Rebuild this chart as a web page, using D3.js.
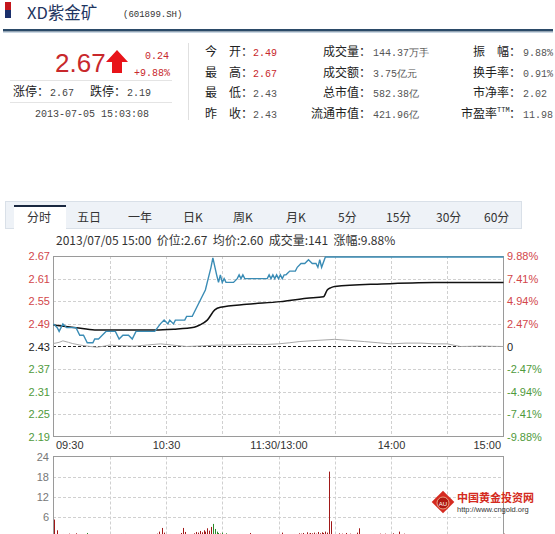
<!DOCTYPE html>
<html><head><meta charset="utf-8">
<script src="https://cdn.jsdelivr.net/npm/d3@7/dist/d3.min.js"></script>
<style>
html,body{margin:0;padding:0;background:#fff;}
svg{display:block;}
</style></head>
<body>
<svg id="c" width="555" height="534"></svg>
<script>
// ---------------- data ----------------
const stockName = "XD紫金矿";
const stockCode = "(601899.SH)";
const lastPrice = "2.67";
const change = "0.24";
const changePct = "+9.88%";
const limitLabels = ["涨停：", "跌停："];
const limitValues = ["2.67", "2.19"];
const quoteTime = "2013-07-05 15:03:08";
const col2Labels = [["今","开："],["最","高："],["最","低："],["昨","收："]];
const col2Values = ["2.49","2.67","2.43","2.43"];
const col3Labels = ["成交量：","成交额：","总市值：","流通市值："];
const col3Values = ["144.37万手","3.75亿元","582.38亿","421.96亿"];
const col4Labels = ["振  幅：","换手率：","市净率：","市盈率"];
const col4Values = ["9.88%","0.91%","2.02","11.98"];
const tabs = ["分时","五日","一年","日K","周K","月K","5分","15分","30分","60分"];
const infoLine = "2013/07/05 15:00  价位:2.67  均价:2.60  成交量:141  涨幅:9.88%";

const timeLabels = ["09:30","10:30","11:30/13:00","14:00","15:00"];
const timeLabelMinutes = [0,60,120,180,240];
const gridMinutes = [30,60,90,120,150,180,210];
const priceTicks = [2.19,2.25,2.31,2.37,2.43,2.49,2.55,2.61,2.67];
const pctTicks = ["-9.88%","-7.41%","-4.94%","-2.47%","0","2.47%","4.94%","7.41%","9.88%"];
const prevClose = 2.43;
const volTicks = [6,12,18,24];

// [minute, price]
const priceLine = [[0,2.49],[2,2.48],[3,2.47],[5,2.49],[7,2.48],[12,2.48],[14,2.46],[16,2.46],[18,2.44],[21,2.44],[22,2.45],[24,2.45],[26,2.46],[28,2.47],[33,2.47],[35,2.45],[37,2.46],[40,2.46],[42,2.45],[44,2.47],[54,2.47],[57,2.49],[59,2.50],[61,2.49],[62,2.50],[64,2.49],[65,2.50],[70,2.50],[71,2.51],[74,2.51],[75,2.52],[77,2.54],[79,2.56],[81,2.58],[82,2.60],[84,2.64],[85,2.665],[87,2.62],[88,2.60],[89,2.62],[90,2.60],[91,2.61],[92,2.60],[96,2.60],[98,2.61],[99,2.62],[100,2.61],[101,2.62],[102,2.61],[114,2.61],[115,2.62],[116,2.61],[117,2.62],[118,2.61],[119,2.62],[120,2.61],[121,2.62],[122,2.61],[123,2.62],[124,2.62],[126,2.63],[129,2.63],[130,2.64],[132,2.65],[134,2.65],[136,2.66],[138,2.65],[140,2.65],[141,2.64],[142,2.66],[143,2.64],[145,2.67],[240,2.67]];
// [minute, average price]
const avgLine = [[0,2.487],[12,2.48],[22,2.474],[54,2.474],[64,2.476],[75,2.481],[78,2.487],[82,2.50],[86,2.527],[89,2.534],[103,2.542],[121,2.549],[135,2.558],[144,2.562],[146,2.58],[148,2.586],[150,2.589],[175,2.596],[203,2.60],[240,2.60]];
// [minute, index reference (in price units)]
const refLine = [[0,2.438],[3,2.441],[5,2.445],[8,2.441],[10,2.438],[14,2.434],[18,2.431],[23,2.428],[27,2.431],[30,2.434],[36,2.432],[43,2.431],[50,2.434],[57,2.437],[63,2.434],[71,2.430],[80,2.432],[88,2.434],[96,2.434],[104,2.436],[112,2.435],[120,2.437],[126,2.440],[131,2.443],[140,2.446],[150,2.449],[158,2.446],[166,2.443],[173,2.440],[180,2.437],[188,2.439],[196,2.439],[203,2.437],[210,2.437],[217,2.430],[228,2.431],[240,2.430]];

const volumes = [
5.2,0.6,2.0,0.8,0.5,0.9,0.4,0.7,1.0,0.5,
0.3,0.6,1.1,0.4,0.5,0.8,0.3,0.4,1.2,0.5,
0.6,0.3,0.4,0.2,0.5,0.3,0.4,0.6,0.3,0.2,
0.4,0.3,0.2,0.5,0.3,0.4,0.2,0.3,0.9,0.4,
0.3,0.2,0.4,0.3,0.2,0.3,0.2,0.3,0.2,0.3,
0.4,0.3,0.5,0.4,0.6,1.0,1.6,0.8,2.7,1.3,
0.7,0.5,0.9,0.6,0.5,0.8,0.6,0.9,1.2,2.7,
1.5,0.8,0.6,0.7,0.9,1.1,1.5,1.3,1.8,1.4,
2.0,1.6,2.6,1.9,3.0,3.9,2.4,1.6,1.2,1.0,
1.3,0.9,1.1,0.7,0.8,0.6,0.5,0.7,0.6,0.9,
0.5,0.4,0.6,0.4,0.5,1.2,0.4,0.3,0.5,0.3,
0.4,0.3,0.5,0.3,0.4,0.6,0.3,0.5,0.4,0.6,
0.5,0.4,1.3,0.5,0.4,0.6,0.5,0.7,0.9,0.6,
0.8,1.1,1.0,1.2,0.9,1.4,1.0,1.2,1.1,1.3,
1.0,1.5,1.1,1.4,1.2,1.6,1.3,19.5,4.7,0.8,
0.6,0.5,1.1,0.6,1.0,0.5,1.2,0.6,1.0,0.4,
0.5,0.7,1.3,2.6,0.8,0.5,0.4,0.6,0.3,0.5,
0.4,0.9,0.5,0.3,1.0,0.4,0.3,1.0,0.4,0.3,
0.5,1.1,0.4,0.6,1.6,0.5,0.3,1.0,0.4,0.3,
0.6,0.3,0.2,0.4,0.3,0.2,0.3,0.4,0.2,0.3,
0.2,0.3,0.4,0.2,0.3,0.2,0.4,0.3,0.2,0.3,
0.2,0.3,0.2,0.4,0.3,0.2,0.3,0.2,0.3,0.2,
0.3,0.2,0.3,0.4,0.2,0.3,0.2,0.3,0.2,0.3,
0.2,0.3,0.2,0.3,0.4,0.2,0.3,0.2,0.3,0.2,
1.0];
const downMinutes = [3,14,18,35,42,61,64,85,86,87,88,90,92];

// ---------------- drawing ----------------
const svg = d3.select("#c");
const CJK = "'Noto Sans CJK SC','Noto Sans',sans-serif";
const MONO = "'Liberation Mono','DejaVu Sans Mono',monospace";
const SANS = "'Liberation Sans',Arial,sans-serif";
const RED = "#c8282c";

// header marker
svg.append("rect").attr("x",5).attr("y",2).attr("width",6).attr("height",8).attr("fill","#c4161c");
svg.append("rect").attr("x",5).attr("y",10).attr("width",6).attr("height",8).attr("fill","#1b2f6b");
svg.append("text").attr("x",27).attr("y",19).attr("font-family",CJK).attr("font-size",16.5)
  .attr("fill","#1e3560").text(stockName);
svg.append("text").attr("x",123).attr("y",17).attr("font-family",MONO).attr("font-size",9)
  .attr("fill","#333").text(stockCode);
svg.append("rect").attr("x",3).attr("y",29).attr("width",550).attr("height",2.5).attr("fill","#2b4a68");
svg.append("rect").attr("x",3).attr("y",32).attr("width",550).attr("height",1).attr("fill","#c9d6e2");

// left block
svg.append("text").attr("x",55).attr("y",72).attr("font-family",SANS).attr("font-size",26)
  .attr("fill",RED).text(lastPrice);
svg.append("path").attr("d","M117,50 L128,62 L122,62 L122,73 L112,73 L112,62 L106,62 Z").attr("fill","#e8141a");
svg.append("text").attr("x",169).attr("y",59).attr("text-anchor","end").attr("font-family",MONO)
  .attr("font-size",10).attr("fill",RED).text(change);
svg.append("text").attr("x",170).attr("y",76).attr("text-anchor","end").attr("font-family",MONO)
  .attr("font-size",10).attr("fill",RED).text(changePct);
svg.append("line").attr("x1",10).attr("x2",172).attr("y1",80.5).attr("y2",80.5).attr("stroke","#e4e4e4");
svg.append("line").attr("x1",10).attr("x2",172).attr("y1",102.5).attr("y2",102.5).attr("stroke","#e4e4e4");
[[13,0],[90,1]].forEach(([x,i])=>{
  svg.append("text").attr("x",x).attr("y",96).attr("font-family",CJK).attr("font-size",12)
    .attr("fill","#222").text(limitLabels[i]);
  svg.append("text").attr("x",x+37).attr("y",96).attr("font-family",MONO).attr("font-size",10)
    .attr("fill","#444").text(limitValues[i]);
});
svg.append("text").attr("x",35).attr("y",117).attr("font-family",MONO).attr("font-size",10)
  .attr("fill","#444").text(quoteTime);
svg.append("line").attr("x1",188.5).attr("x2",188.5).attr("y1",43).attr("y2",120).attr("stroke","#e0e0e0");

const rowY = [56,77,97,118];
col2Labels.forEach((l,i)=>{
  svg.append("text").attr("x",205).attr("y",rowY[i]).attr("font-family",CJK).attr("font-size",12).attr("fill","#222").text(l[0]);
  svg.append("text").attr("x",229).attr("y",rowY[i]).attr("font-family",CJK).attr("font-size",12).attr("fill","#222").text(l[1]);
  svg.append("text").attr("x",253).attr("y",rowY[i]).attr("font-family",MONO).attr("font-size",10)
    .attr("fill", i<2 ? RED : "#555").text(col2Values[i]);
});
col3Labels.forEach((l,i)=>{
  svg.append("text").attr("x",371).attr("y",rowY[i]).attr("text-anchor","end").attr("font-family",CJK).attr("font-size",12).attr("fill","#222").text(l);
  svg.append("text").attr("x",373).attr("y",rowY[i]).attr("font-family",MONO).attr("font-size",10).attr("fill","#555").text(col3Values[i]);
});
col4Labels.forEach((l,i)=>{
  if(i===3){
    svg.append("text").attr("x",497).attr("y",rowY[i]).attr("text-anchor","end").attr("font-family",CJK).attr("font-size",12).attr("fill","#222").text(l);
    svg.append("text").attr("x",497).attr("y",rowY[i]-6).attr("font-family",MONO).attr("font-size",7).attr("fill","#222").text("TTM");
    svg.append("text").attr("x",509).attr("y",rowY[i]).attr("font-family",CJK).attr("font-size",12).attr("fill","#222").text("：");
  } else if(i===0){
    svg.append("text").attr("x",473).attr("y",rowY[i]).attr("font-family",CJK).attr("font-size",12).attr("fill","#222").text("振");
    svg.append("text").attr("x",497).attr("y",rowY[i]).attr("font-family",CJK).attr("font-size",12).attr("fill","#222").text("幅：");
  } else {
    svg.append("text").attr("x",521).attr("y",rowY[i]).attr("text-anchor","end").attr("font-family",CJK).attr("font-size",12).attr("fill","#222").text(l);
  }
  svg.append("text").attr("x",523).attr("y",rowY[i]).attr("font-family",MONO).attr("font-size",10).attr("fill","#555").text(col4Values[i]);
});

// tabs
svg.append("rect").attr("x",5.5).attr("y",201.5).attr("width",516).attr("height",27).attr("fill","#eef2f7").attr("stroke","#d9e0e8");
svg.append("rect").attr("x",14).attr("y",205).attr("width",52).attr("height",24).attr("fill","#fff");
svg.append("line").attr("x1",14).attr("x2",66).attr("y1",206).attr("y2",206).attr("stroke","#1a2840").attr("stroke-width",2);
const tabX = [27,77,128,183,233,286,338,386,436,484];
tabs.forEach((t,i)=>{
  svg.append("text").attr("x",tabX[i]).attr("y",222).attr("font-family",CJK).attr("font-size",12)
    .attr("fill","#333").text(t);
});
svg.append("text").attr("x",56).attr("y",245).attr("font-family",CJK).attr("font-size",12)
  .attr("fill","#333").attr("xml:space","preserve").style("white-space","pre").text(infoLine);

// scales
const L = 53, R = 504, T = 256, B = 437;
const x = d3.scaleLinear().domain([0,240]).range([L+0.5,R-0.5]);
const y = d3.scaleLinear().domain([2.19,2.67]).range([B,T]);
const VT = 456.5, VB = 537;
const yv = d3.scaleLinear().domain([0,24]).range([VB,VT]);

// main grid
const g = svg.append("g");
g.selectAll(".hg").data(priceTicks.filter(p=>p!==2.19 && p!==2.67 && p!==prevClose)).join("line")
  .attr("x1",L).attr("x2",R).attr("y1",d=>Math.round(y(d))+0.5).attr("y2",d=>Math.round(y(d))+0.5)
  .attr("stroke","#d0d0d0").attr("stroke-dasharray","3,2");
g.selectAll(".vg").data(gridMinutes).join("line")
  .attr("x1",d=>Math.round(x(d))+0.5).attr("x2",d=>Math.round(x(d))+0.5).attr("y1",T).attr("y2",B)
  .attr("stroke","#d0d0d0").attr("stroke-dasharray","3,2");
g.append("line").attr("x1",L).attr("x2",R).attr("y1",Math.round(y(prevClose))+0.5).attr("y2",Math.round(y(prevClose))+0.5)
  .attr("stroke","#222").attr("stroke-dasharray","3,2");
svg.append("rect").attr("x",L+0.5).attr("y",T+0.5).attr("width",R-L-1).attr("height",B-T-1)
  .attr("fill","none").attr("stroke","#9a9a9a");

// left axis
const yAxis = d3.axisLeft(y).tickValues(priceTicks).tickSize(0).tickPadding(3).tickFormat(d3.format(".2f"));
const ya = svg.append("g").attr("transform",`translate(${L},0)`).call(yAxis);
ya.select(".domain").remove();
ya.selectAll("text").attr("font-family",SANS).attr("font-size",11)
  .attr("fill",d=> d>prevClose ? "#d2464a" : (d<prevClose ? "#4f9a3c" : "#222"));
// right axis
const yAxisR = d3.axisRight(y).tickValues(priceTicks).tickSize(0).tickPadding(3).tickFormat((d,i)=>pctTicks[i]);
const yr = svg.append("g").attr("transform",`translate(${R},0)`).call(yAxisR);
yr.select(".domain").remove();
yr.selectAll("text").attr("font-family",SANS).attr("font-size",11)
  .attr("fill",d=> d>prevClose ? "#d2464a" : (d<prevClose ? "#4f9a3c" : "#222"));
// bottom axis
const xAxis = d3.axisBottom(x).tickValues(timeLabelMinutes).tickSize(0).tickPadding(4).tickFormat((d,i)=>timeLabels[i]);
const xa = svg.append("g").attr("transform",`translate(0,${B})`).call(xAxis);
xa.select(".domain").remove();
xa.selectAll("text").attr("font-family",SANS).attr("font-size",11).attr("fill","#333")
  .attr("text-anchor",(d,i)=> i===0 ? "start" : (i===timeLabels.length-1 ? "end" : "middle"))
  .attr("dx",(d,i)=> i===0 ? 2 : (i===timeLabels.length-1 ? -3 : 0));

// lines (drawn above the frame)
const line = d3.line().x(d=>x(d[0])).y(d=>y(d[1]));
svg.append("path").datum(refLine).attr("d",line).attr("fill","none").attr("stroke","#a8a8a8").attr("stroke-width",1);
svg.append("path").datum(avgLine).attr("d",d3.line().x(d=>x(d[0])).y(d=>y(d[1])).curve(d3.curveMonotoneX))
  .attr("fill","none").attr("stroke","#111").attr("stroke-width",1.5);
svg.append("path").datum(priceLine).attr("d",d3.line().x(d=>x(d[0])).y(d=>y(d[1]) + (d[1]>=2.67 ? 1 : 0))).attr("fill","none")
  .attr("stroke","#3a8cb5").attr("stroke-width",1.4);

// volume chart
const vg = svg.append("g");
vg.selectAll(".vh").data(volTicks.filter(v=>v!==24)).join("line")
  .attr("x1",L).attr("x2",R).attr("y1",d=>Math.round(yv(d))+0.5).attr("y2",d=>Math.round(yv(d))+0.5)
  .attr("stroke","#d0d0d0").attr("stroke-dasharray","3,2");
vg.selectAll(".vv").data(gridMinutes).join("line")
  .attr("x1",d=>Math.round(x(d))+0.5).attr("x2",d=>Math.round(x(d))+0.5).attr("y1",VT).attr("y2",VB)
  .attr("stroke","#d0d0d0").attr("stroke-dasharray","3,2");
const va = svg.append("g").attr("transform",`translate(${L},0)`)
  .call(d3.axisLeft(yv).tickValues(volTicks).tickSize(0).tickPadding(4));
va.select(".domain").remove();
va.selectAll("text").attr("font-family",SANS).attr("font-size",11).attr("fill","#777");

svg.append("rect").attr("x",L+0.5).attr("y",VT).attr("width",R-L-1).attr("height",VB-VT)
  .attr("fill","none").attr("stroke","#9a9a9a");
vg.selectAll(".bar").data(volumes).join("rect")
  .attr("x",(d,i)=>Math.round(x(i))).attr("width",1)
  .attr("y",d=>yv(d)).attr("height",d=>VB-yv(d))
  .attr("fill",(d,i)=> downMinutes.includes(i) ? "#2a8a2a" : "#a01818");

// watermark
const wm = svg.append("g");
wm.append("rect").attr("x",-8).attr("y",-8).attr("width",16).attr("height",16)
  .attr("transform","translate(443,502) rotate(45)").attr("fill","#d52a20");
wm.append("circle").attr("cx",443).attr("cy",503).attr("r",6).attr("fill","#b01810").attr("stroke","#f0c0a0").attr("stroke-width",0.8);
wm.append("text").attr("x",443).attr("y",505.5).attr("text-anchor","middle").attr("font-family",SANS).attr("font-size",6).attr("fill","#fff").text("AU");
wm.append("text").attr("x",457).attr("y",502).attr("font-family",CJK).attr("font-size",11).attr("font-weight","bold").attr("fill","#d42a20").text("中国黄金投资网");
wm.append("text").attr("x",457).attr("y",512).attr("font-family",SANS).attr("font-size",7.5).attr("fill","#333").text("http://www.cngold.org");
</script>
</body></html>
